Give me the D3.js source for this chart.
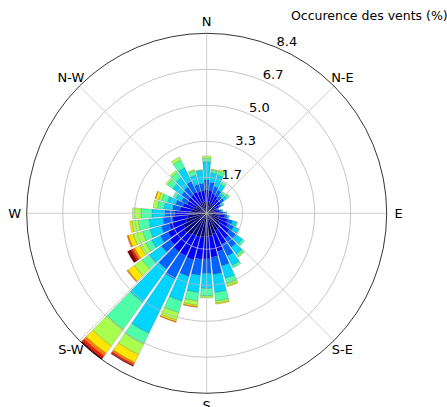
<!DOCTYPE html>
<html><head><meta charset="utf-8">
<script src="https://cdn.jsdelivr.net/npm/d3@7"></script>
<style>body{margin:0;background:#fff} svg{display:block} text{font-family:"DejaVu Sans",sans-serif;fill:#000}</style>
</head><body><svg id="c" width="447" height="407"></svg>
<script>
// wind directions (degrees, clockwise from north)
const directions = [0,10,20,30,40,50,60,70,80,90,100,110,120,130,140,150,160,170,180,190,200,210,220,230,240,250,260,270,280,290,300,310,320,330,340,350];
// frequency (%) per speed bin, one array per bin, one value per direction
const bin1  = [0.55,0.55,0.50,0.50,0.45,0.45,0.40,0.35,0.40,0.50,0.55,0.60,0.65,0.75,0.85,0.90,1.00,1.05,1.07,1.10,1.15,1.15,1.25,1.30,1.20,1.00,0.90,0.80,0.70,0.65,0.55,0.55,0.55,0.55,0.55,0.55];
const bin2  = [0.55,0.50,0.45,0.40,0.35,0.35,0.25,0.15,0.20,0.25,0.30,0.40,0.45,0.55,0.60,0.70,0.85,1.00,1.05,1.05,1.10,1.05,0.95,0.80,0.80,0.80,0.70,0.70,0.55,0.50,0.45,0.50,0.50,0.55,0.50,0.50];
const bin3  = [0.45,0.40,0.35,0.30,0.20,0.20,0.10,0.05,0.10,0.10,0.10,0.25,0.30,0.40,0.50,0.60,0.70,0.80,0.68,0.75,0.80,1.20,1.00,0.50,0.40,0.40,0.45,0.45,0.35,0.35,0.30,0.40,0.45,0.55,0.35,0.35];
const bin4  = [0.85,0.45,0.55,0.30,0.15,0.17,0.10,0.05,0.05,0.10,0.10,0.20,0.25,0.35,0.40,0.50,0.60,0.85,0.70,0.80,1.20,2.80,1.90,0.70,0.45,0.55,0.65,0.60,0.40,0.40,0.30,0.50,0.55,0.70,0.45,0.60];
const bin5  = [0.15,0.12,0.17,0.12,0.10,0.10,0.05,0.00,0.00,0.00,0.00,0.05,0.06,0.12,0.12,0.12,0.25,0.40,0.35,0.40,0.55,0.55,1.55,0.40,0.30,0.35,0.50,0.50,0.30,0.28,0.14,0.30,0.30,0.40,0.20,0.05];
const bin6  = [0.12,0.05,0.08,0.00,0.00,0.05,0.00,0.00,0.00,0.00,0.00,0.00,0.00,0.00,0.05,0.00,0.10,0.10,0.09,0.20,0.35,0.55,0.95,0.45,0.30,0.45,0.30,0.40,0.20,0.14,0.00,0.09,0.10,0.16,0.07,0.00];
const bin7  = [0,0,0,0,0,0,0,0,0,0,0,0,0,0,0,0,0.05,0.05,0,0.07,0.08,0.40,0.42,0.37,0.27,0.23,0.10,0,0,0.15,0,0,0,0,0,0];
const bin8  = [0,0,0,0,0,0,0,0,0,0,0,0,0,0,0,0,0,0,0,0.03,0.04,0.10,0.15,0.05,0.10,0.07,0,0,0,0.03,0,0,0,0,0,0];
const bin9  = [0,0,0,0,0,0,0,0,0,0,0,0,0,0,0,0,0,0,0,0,0,0.06,0.12,0,0.09,0,0,0,0,0,0,0,0,0,0,0];
const bin10 = [0,0,0,0,0,0,0,0,0,0,0,0,0,0,0,0,0,0,0,0,0,0.04,0.08,0,0.18,0,0,0,0,0,0,0,0,0,0,0];
const bins = [bin1,bin2,bin3,bin4,bin5,bin6,bin7,bin8,bin9,bin10];
const binColors = ["#000080","#0000ff","#0063ff","#00d4ff","#4effa9","#a9ff4d","#ffe600","#ff7d00","#ff1400","#800000"];
const compassLabels = ["N","N-E","E","S-E","S","S-W","W","N-W"];
const compassAngles = [0,45,90,135,180,225,270,315];
const radiusLabels = ["1.7","3.3","5.0","6.7","8.4"];
const title = "Occurence des vents (%)";

const cx = 206.7, cy = 213.3, R = 180;
const svg = d3.select("#c");
const g = svg.append("g").attr("transform", `translate(${cx},${cy})`);

const totals = directions.map((d,i)=>d3.sum(bins, b=>b[i]));
const rmax = d3.max(totals);
const r = d3.scaleLinear().domain([0, rmax]).range([0, R]);
const rad = d => d*Math.PI/180;
const opening = 0.86;
const half = opening*Math.PI/directions.length;

// stacked bars
const stack = [];
directions.forEach((d,i)=>{
  let c0 = 0;
  bins.forEach((b,k)=>{
    const v = b[i];
    if (v>0) stack.push({d, k, c0, c1: c0+v});
    c0 += v;
  });
});
const arc = d3.arc();
g.selectAll("path.bar").data(stack).join("path")
  .attr("class","bar")
  .attr("d", s => arc({innerRadius:r(s.c0), outerRadius:r(s.c1), startAngle:rad(s.d)-half, endAngle:rad(s.d)+half}))
  .attr("fill", s => binColors[s.k])
  .attr("stroke", "rgba(70,70,70,0.55)")
  .attr("stroke-width", 0.4);

// grid (drawn over bars)
const ringVals = radiusLabels.map((l,i)=> rmax*(i+1)/radiusLabels.length);
g.selectAll("circle.grid").data(ringVals.slice(0,-1)).join("circle")
  .attr("r", v=>r(v)).attr("fill","none").attr("stroke","#b8b8b8").attr("stroke-width",0.8);
g.selectAll("line.spoke").data(compassAngles).join("line")
  .attr("x1",0).attr("y1",0)
  .attr("x2", a=>R*Math.sin(rad(a))).attr("y2", a=>-R*Math.cos(rad(a)))
  .attr("stroke","#c4c4c4").attr("stroke-width",0.8);
g.append("circle").attr("r",R).attr("fill","none").attr("stroke","#000").attr("stroke-width",0.8);

// compass labels
g.selectAll("text.dir").data(compassLabels).join("text")
  .attr("x",(l,i)=>192*Math.sin(rad(compassAngles[i])))
  .attr("y",(l,i)=>-192*Math.cos(rad(compassAngles[i])))
  .attr("text-anchor","middle").attr("dominant-baseline","central")
  .attr("font-size",13).text(l=>l);

// radius labels at 22.5 deg
g.selectAll("text.rl").data(radiusLabels).join("text")
  .attr("x",(l,i)=>r(ringVals[i])*Math.sin(rad(22.5))+1)
  .attr("y",(l,i)=>-r(ringVals[i])*Math.cos(rad(22.5))-1.5)
  .attr("font-size",13).text(l=>l);

svg.append("text").attr("x",291).attr("y",20).attr("font-size",12.5).text(title);
</script></body></html>
